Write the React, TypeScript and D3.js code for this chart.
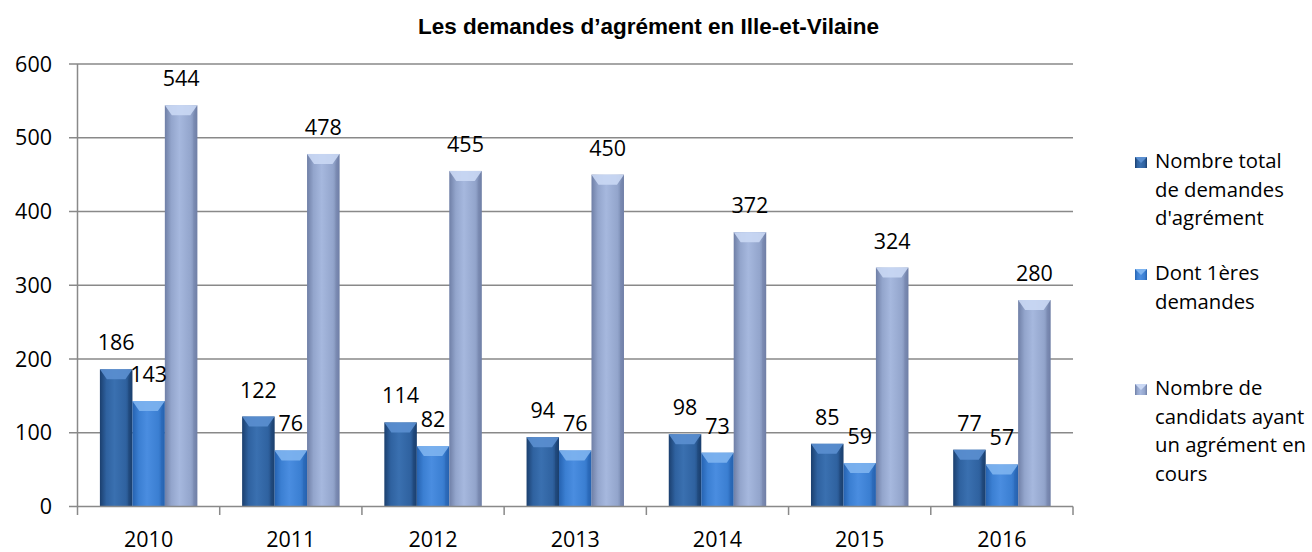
import React, { useEffect, useRef } from 'react';
import * as d3 from 'd3';

// chart values
const years = ['2010', '2011', '2012', '2013', '2014', '2015', '2016'];
const totalDemandes = [186, 122, 114, 94, 98, 85, 77];
const premieresDemandes = [143, 76, 82, 76, 73, 59, 57];
const agrementEnCours = [544, 478, 455, 450, 372, 324, 280];
const yTicks = [0, 100, 200, 300, 400, 500, 600];
const seriesNames = [
  ['Nombre total', 'de demandes', "d'agrément"],
  ['Dont 1ères', 'demandes'],
  ['Nombre de', 'candidats ayant', 'un agrément en', 'cours'],
];

const WIDTH = 1312;
const HEIGHT = 552;
const FONT = '"Open Sans", "Noto Sans", sans-serif';

// colours per series: edge, body, highlight, bevel
const palette = [
  { edge: '#1b3f6e', body: '#2f62a0', light: '#3a70b0', bevel: '#5b8fd0' },
  { edge: '#2562b0', body: '#3b7fd2', light: '#4a8de0', bevel: '#7eb4f0' },
  { edge: '#6f7fa6', body: '#93a5cc', light: '#a6b8de', bevel: '#cad8f4' },
];

export default function App() {
  const ref = useRef<SVGSVGElement>(null);

  useEffect(() => {
    const svg = d3.select(ref.current);
    svg.selectAll('*').remove();

    const x0 = d3.scaleBand().domain(years).range([77.5, 1073]).paddingInner(0).paddingOuter(0);
    const x1 = d3.scaleBand().domain(['0', '1', '2']).range([0, x0.bandwidth()]).paddingInner(0).paddingOuter(0.69);
    const y = d3.scaleLinear().domain([0, 600]).range([506.5, 64]);

    const defs = svg.append('defs');
    palette.forEach((p, i) => {
      const g = defs.append('linearGradient').attr('id', `grad${i}`).attr('x1', 0).attr('x2', 1).attr('y1', 0).attr('y2', 0);
      g.append('stop').attr('offset', 0).attr('stop-color', p.edge);
      g.append('stop').attr('offset', 0.2).attr('stop-color', p.body);
      g.append('stop').attr('offset', 0.45).attr('stop-color', p.light);
      g.append('stop').attr('offset', 0.8).attr('stop-color', p.body);
      g.append('stop').attr('offset', 1).attr('stop-color', p.edge);
    });

    // title
    svg.append('text')
      .attr('x', 648.5)
      .attr('y', 34)
      .attr('text-anchor', 'middle')
      .style('font-family', '"Liberation Sans", Arial, sans-serif')
      .style('font-weight', 'bold')
      .style('font-size', '22.5px')
      .attr('fill', '#000')
      .text('Les demandes d’agrément en Ille-et-Vilaine');

    const lineColor = '#898989';

    // gridlines + y ticks
    svg.append('g').selectAll('line')
      .data(yTicks.filter(t => t > 0))
      .enter().append('line')
      .attr('x1', 69).attr('x2', 1073)
      .attr('y1', d => y(d)).attr('y2', d => y(d))
      .attr('stroke', lineColor).attr('stroke-width', 1.5);

    svg.append('g').selectAll('text')
      .data(yTicks)
      .enter().append('text')
      .attr('x', 52)
      .attr('y', d => y(d) + 7.7)
      .attr('text-anchor', 'end')
      .style('font-family', FONT).style('font-size', '21.5px')
      .text(d => d);

    // bars
    const series = [totalDemandes, premieresDemandes, agrementEnCours];
    const bars = svg.append('g');
    series.forEach((values, si) => {
      const w = x1.bandwidth();
      values.forEach((v, i) => {
        const bx = (x0(years[i]) as number) + (x1(String(si)) as number);
        const by = y(v);
        const bh = y(0) - by;
        bars.append('rect')
          .attr('x', bx).attr('y', by)
          .attr('width', w).attr('height', bh)
          .attr('fill', `url(#grad${si})`);
        const bv = Math.min(10, bh);
        const bw = 7;
        bars.append('path')
          .attr('d', `M${bx},${by}L${bx + w},${by}L${bx + w - bw},${by + bv}L${bx + bw},${by + bv}Z`)
          .attr('fill', palette[si].bevel)
          .attr('opacity', 0.9);
        bars.append('path')
          .attr('d', `M${bx + w},${by}L${bx + w - 4},${by + bv}L${bx + w - 4},${by + bh}L${bx + w},${by + bh}Z`)
          .attr('fill', palette[si].edge).attr('opacity', 0.35);
      });
    });

    // axes
    svg.append('line')
      .attr('x1', 77.5).attr('x2', 77.5).attr('y1', y(600)).attr('y2', 515)
      .attr('stroke', lineColor).attr('stroke-width', 1.5);
    svg.append('line')
      .attr('x1', 69).attr('x2', 1073).attr('y1', y(0)).attr('y2', y(0))
      .attr('stroke', lineColor).attr('stroke-width', 1.5);
    const xEdges = years.map(yr => x0(yr) as number).concat([1073]);
    svg.append('g').selectAll('line')
      .data(xEdges.slice(1))
      .enter().append('line')
      .attr('x1', d => d).attr('x2', d => d)
      .attr('y1', y(0)).attr('y2', 515)
      .attr('stroke', lineColor).attr('stroke-width', 1.5);

    svg.append('g').selectAll('text')
      .data(years)
      .enter().append('text')
      .attr('x', d => (x0(d) as number) + x0.bandwidth() / 2)
      .attr('y', 547)
      .attr('text-anchor', 'middle')
      .style('font-family', FONT).style('font-size', '21.5px')
      .text(d => d);

    // data labels
    series.forEach((values, si) => {
      svg.append('g').selectAll('text')
        .data(values)
        .enter().append('text')
        .attr('x', (d, i) => (x0(years[i]) as number) + (x1(String(si)) as number) + x1.bandwidth() / 2)
        .attr('y', d => y(d) - 19)
        .attr('text-anchor', 'middle')
        .style('font-family', FONT).style('font-size', '21.5px')
        .text(d => d);
    });

    // legend
    const legendTop = [168, 280, 395];
    const lineH = 28.7;
    seriesNames.forEach((lines, si) => {
      const g = svg.append('g');
      g.append('rect')
        .attr('x', 1135).attr('y', legendTop[si] - 11)
        .attr('width', 12).attr('height', 11)
        .attr('fill', `url(#grad${si})`);
      g.append('path')
        .attr('d', `M1135,${legendTop[si] - 11}L1147,${legendTop[si] - 11}L1141,${legendTop[si] - 5}Z`)
        .attr('fill', palette[si].bevel);
      g.selectAll('text')
        .data(lines)
        .enter().append('text')
        .attr('x', 1155)
        .attr('y', (d, k) => legendTop[si] + k * lineH)
        .style('font-family', FONT).style('font-size', '20.3px')
        .text(d => d);
    });
  }, []);

  return (
    <svg
      ref={ref}
      width={WIDTH}
      height={HEIGHT}
      style={{ position: 'absolute', left: 0, top: 0, background: '#fff' }}
    />
  );
}
